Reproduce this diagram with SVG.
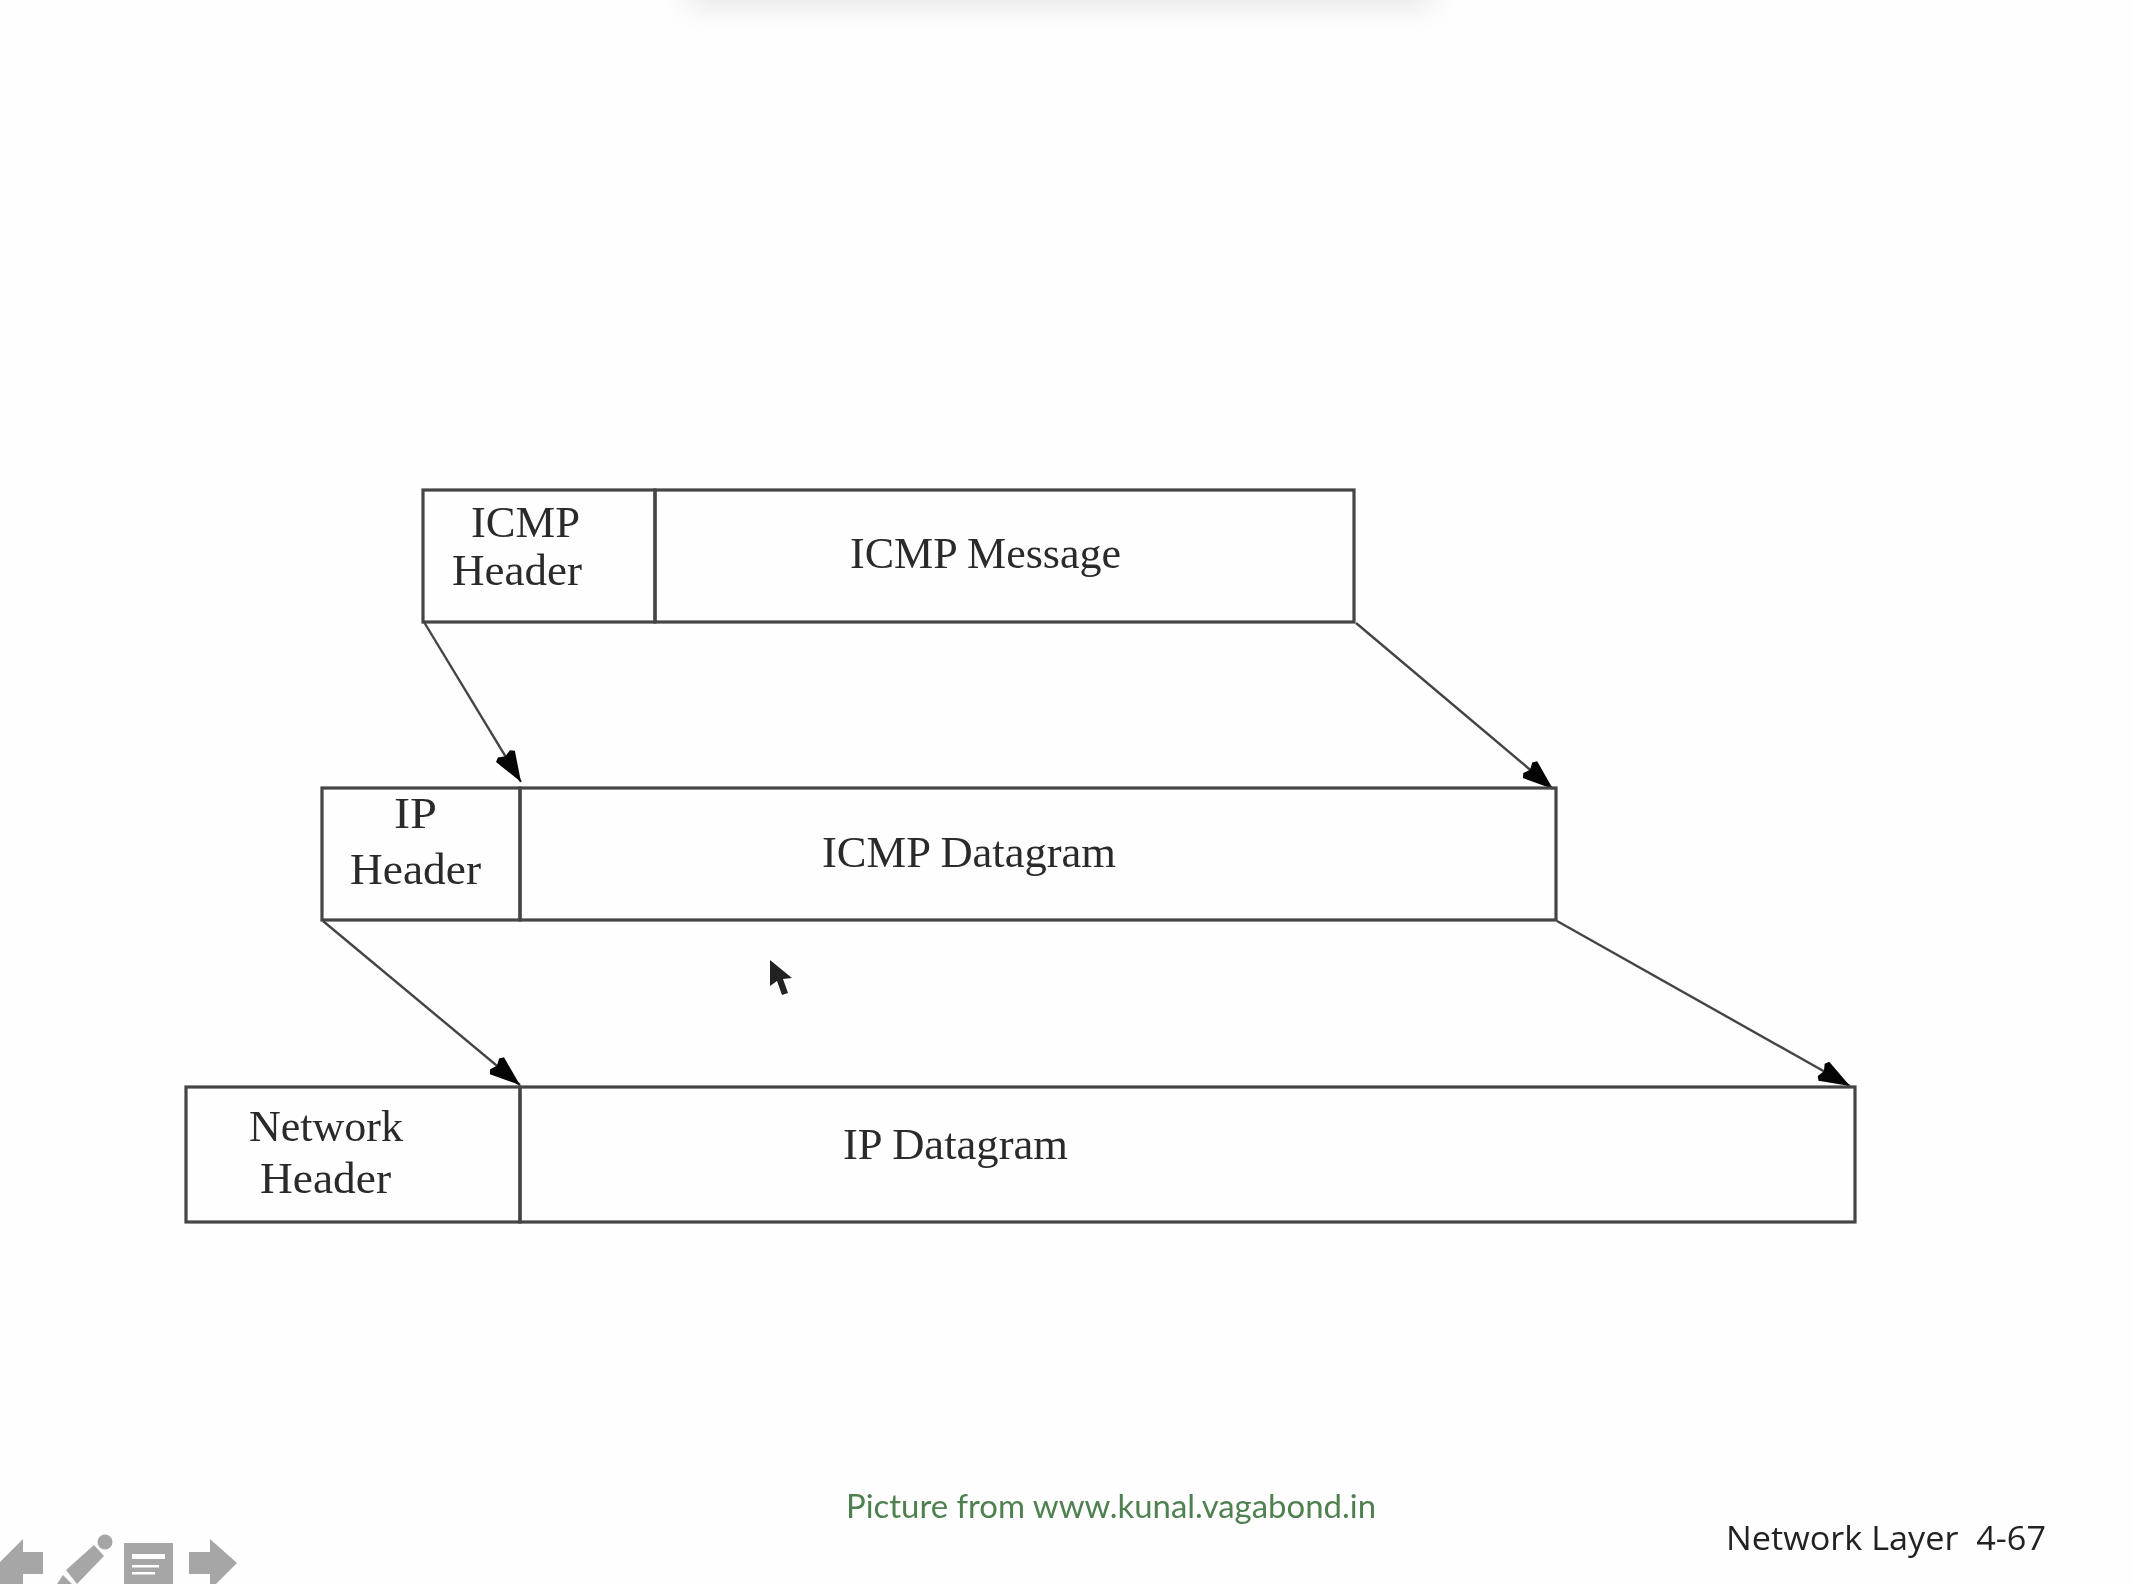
<svg xmlns="http://www.w3.org/2000/svg" width="2132" height="1584" viewBox="0 0 2132 1584">
<defs>
<style>
.box{fill:none;stroke:#454545;stroke-width:3.2}
.lbl{font-family:"Liberation Serif",serif;font-size:44px;fill:#2c2c2c;filter:url(#soft)}
.con{fill:none;stroke:#444;stroke-width:2.4;marker-end:url(#head)}
.foot{font-size:33px;filter:url(#soft);white-space:pre}
.icon{fill:#a6a6a6}
</style>
<marker id="head" markerUnits="userSpaceOnUse" markerWidth="40" markerHeight="26" refX="36" refY="13" orient="auto">
<path d="M36 13 L6 2 L3 6 L6 13 L3 20 L6 24 Z" fill="#050505"/>
</marker>
<filter id="shadow" x="-20%" y="-300%" width="140%" height="700%"><feGaussianBlur stdDeviation="16"/></filter>
<filter id="soft" x="-5%" y="-20%" width="110%" height="140%"><feGaussianBlur stdDeviation="0.7"/></filter>
</defs>
<rect width="2132" height="1584" fill="#fefefe"/>
<rect x="690" y="-24" width="740" height="26" fill="#dcdcdc" filter="url(#shadow)"/>

<g id="connectors">
<line class="con" x1="424" y1="622" x2="521" y2="782"/>
<line class="con" x1="1356" y1="623" x2="1553" y2="789"/>
<line class="con" x1="323" y1="921" x2="520" y2="1085"/>
<line class="con" x1="1557" y1="921" x2="1850" y2="1086"/>
</g>

<g id="icmp-row">
<g id="icmp-header"><rect class="box" x="423" y="490" width="232" height="132"/>
<text class="lbl" x="471" y="537" textLength="109" lengthAdjust="spacingAndGlyphs">ICMP</text>
<text class="lbl" x="452" y="585" textLength="130" lengthAdjust="spacingAndGlyphs">Header</text></g>
<g id="icmp-message"><rect class="box" x="655" y="490" width="699" height="132"/>
<text class="lbl" x="850" y="568" textLength="271" lengthAdjust="spacingAndGlyphs">ICMP Message</text></g>
</g>
<g id="ip-row">
<g id="ip-header"><rect class="box" x="322" y="788" width="198" height="132"/>
<text class="lbl" x="394" y="828" textLength="43" lengthAdjust="spacingAndGlyphs">IP</text>
<text class="lbl" x="350" y="884" textLength="131" lengthAdjust="spacingAndGlyphs">Header</text></g>
<g id="icmp-datagram"><rect class="box" x="520" y="788" width="1036" height="132"/>
<text class="lbl" x="822" y="867" textLength="294" lengthAdjust="spacingAndGlyphs">ICMP Datagram</text></g>
</g>
<g id="network-row">
<g id="network-header"><rect class="box" x="186" y="1087" width="334" height="135"/>
<text class="lbl" x="249" y="1141" textLength="154" lengthAdjust="spacingAndGlyphs">Network</text>
<text class="lbl" x="260" y="1193" textLength="131" lengthAdjust="spacingAndGlyphs">Header</text></g>
<g id="ip-datagram"><rect class="box" x="520" y="1087" width="1335" height="135"/>
<text class="lbl" x="843" y="1159" textLength="225" lengthAdjust="spacingAndGlyphs">IP Datagram</text></g>
</g>

<path id="cursor" d="M770 960 L770 986 L777 981 L782 995 L788 993 L783 979 L792 978 Z" fill="#222"/>

<text class="foot" x="846" y="1518" textLength="530" lengthAdjust="spacingAndGlyphs" style="font-family:Lato,sans-serif;fill:#4f8050">Picture from www.kunal.vagabond.in</text>
<text class="foot" x="1726" y="1550" textLength="320" lengthAdjust="spacingAndGlyphs" style="font-family:'Open Sans',sans-serif;fill:#222">Network Layer  4-67</text>

<g id="nav-icons">
<path class="icon" d="M0 1562 L23 1539 L23 1552 L43 1552 L43 1574 L23 1574 L23 1584 L0 1584 Z"/>
<path class="icon" d="M94 1545 L104 1556 L77 1584 L66 1570 Z"/>
<path class="icon" d="M63 1575 L72 1584 L57 1584 Z"/>
<circle class="icon" cx="105" cy="1542" r="7.5"/>
<rect class="icon" x="124" y="1543" width="49" height="41"/>
<rect x="132" y="1554" width="33" height="5" fill="#fefefe"/>
<rect x="132" y="1565" width="27" height="2.5" fill="#fefefe"/>
<rect x="132" y="1572" width="23" height="2.5" fill="#fefefe"/>
<path class="icon" d="M189 1552 L210 1552 L210 1539 L237 1563 L216 1584 L210 1584 L210 1574 L189 1574 Z"/>
</g>
</svg>
